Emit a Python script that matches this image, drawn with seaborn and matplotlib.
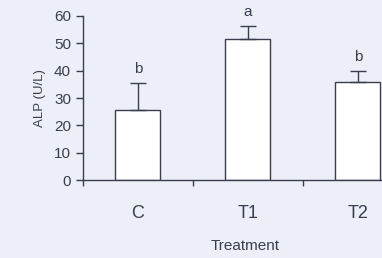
import numpy as np
import pandas as pd
import matplotlib
matplotlib.use("Agg")
import matplotlib.pyplot as plt
import seaborn as sns

treatments = ["C", "T1", "T2"]
alp_mean = [25.5, 51.5, 36.0]
alp_err = [10.0, 5.0, 4.0]
letters = ["b", "a", "b"]

df = pd.DataFrame({"Treatment": treatments, "ALP": alp_mean})

sns.set_style("ticks")
plt.rcParams["font.family"] = ["Liberation Sans", "DejaVu Sans"]
ink = "#3a3e4c"
bg = "#eceff8"

fig = plt.figure(figsize=(3.82, 2.58), dpi=100, facecolor=bg)
ax = fig.add_axes([0.217, 0.302, 0.783, 0.636])
ax.set_facecolor(bg)

sns.barplot(data=df, x="Treatment", y="ALP", color="white", edgecolor=ink,
            linewidth=1.0, width=0.41, errorbar=None, ax=ax)
ax.errorbar(range(len(treatments)), alp_mean, yerr=[np.zeros(len(alp_err)), alp_err],
            fmt="none", ecolor=ink, elinewidth=1.0, capsize=6, capthick=1.0)
for i, (m, e, l) in enumerate(zip(alp_mean, alp_err, letters)):
    ax.text(i, m + e + 5, l, ha="center", va="center", fontsize=11, color=ink)

ax.set_yticks(range(0, 61, 10))
ax.set_xticks([-0.5, 0.5, 1.5, 2.5], minor=False)
ax.set_xticklabels([])
ax.set_xticks(range(len(treatments)), minor=True)
ax.set_xticklabels(treatments, minor=True)
ax.set_ylim(0, 60)
ax.set_xlim(-0.5, 2.22)
ax.tick_params(axis="x", which="minor", length=0, pad=18, labelsize=13, colors=ink)
ax.tick_params(axis="x", which="major", length=4, width=1.0, color=ink)
ax.tick_params(axis="y", length=5, width=1.0, labelsize=11, colors=ink)
ax.set_xlabel("Treatment", fontsize=11, color=ink)
ax.xaxis.set_label_coords(0.542, -0.40)
ax.xaxis.label.set_va("center")
ax.set_ylabel("ALP (U/L)", fontsize=9.5, color=ink, labelpad=6)
sns.despine(ax=ax, right=True, top=True)
for s in ["left", "bottom"]:
    ax.spines[s].set_color(ink)
    ax.spines[s].set_linewidth(1.0)

fig.savefig("out.png", dpi=100, facecolor=bg)
